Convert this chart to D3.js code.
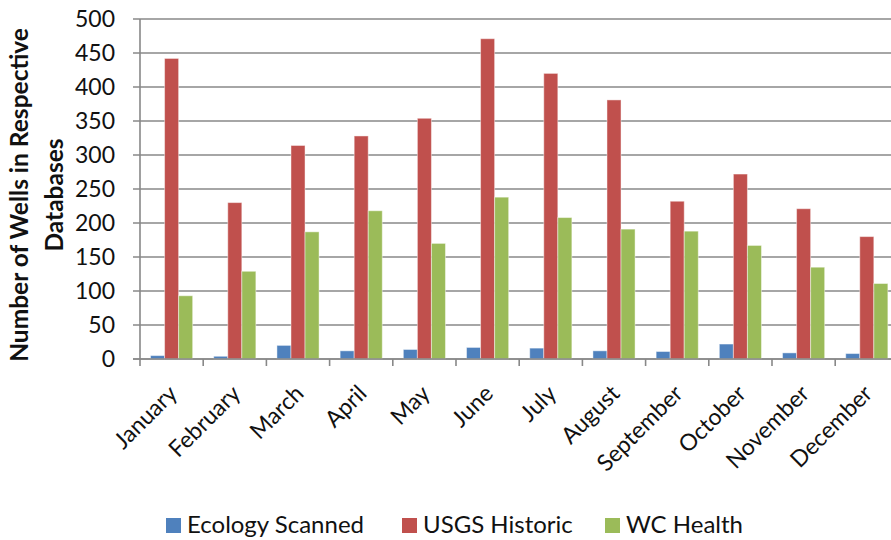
<!DOCTYPE html>
<html>
<head>
<meta charset="utf-8">
<script src="https://cdn.jsdelivr.net/npm/d3@7"></script>
<style>
  html, body { margin: 0; padding: 0; background: #fff; }
  svg { display: block; }
</style>
</head>
<body>
<svg></svg>
<script>
// wells per month, three databases
const months = ['January', 'February', 'March', 'April', 'May', 'June', 'July', 'August', 'September', 'October', 'November', 'December'];
const seriesNames = ['Ecology Scanned', 'USGS Historic', 'WC Health'];
const ecologyScanned = [5, 4, 20, 12, 14, 17, 16, 12, 11, 22, 9, 8];
const usgsHistoric = [442, 230, 314, 328, 354, 471, 420, 381, 232, 272, 221, 180];
const wcHealth = [93, 129, 187, 218, 170, 238, 208, 191, 188, 167, 135, 111];
const yTicks = [0, 50, 100, 150, 200, 250, 300, 350, 400, 450, 500];

const WIDTH = 891;
const HEIGHT = 540;
const PLOT_LEFT = 140;
const PLOT_RIGHT = 898.4; // plot runs past the right edge of the picture
const PLOT_TOP = 19;
const PLOT_BOTTOM = 359;

const colors = ['#4F81BD', '#C0504D', '#9BBB59'];
const FONT = 'Lato, "Open Sans", sans-serif';

const svg = d3.select('svg').
attr('width', WIDTH).
attr('height', HEIGHT).
attr('font-family', FONT);

const xScale = d3.scaleBand().
domain(months).
range([PLOT_LEFT, PLOT_RIGHT]).
paddingInner(0).
paddingOuter(0);

const seriesScale = d3.scaleBand().
domain(seriesNames).
range([0, xScale.bandwidth()]).
paddingInner(0).
paddingOuter(0.75);

const yScale = d3.scaleLinear().
domain([0, 500]).
range([PLOT_BOTTOM, PLOT_TOP]);

// gridlines (include the little tick on the left)
svg.append('g').
selectAll('line').
data(yTicks).
enter().
append('line').
attr('x1', PLOT_LEFT - 7).
attr('x2', WIDTH).
attr('y1', d => yScale(d)).
attr('y2', d => yScale(d)).
attr('stroke', '#888').
attr('stroke-width', 1.6);

// y axis line
svg.append('line').
attr('x1', PLOT_LEFT).
attr('x2', PLOT_LEFT).
attr('y1', PLOT_TOP).
attr('y2', PLOT_BOTTOM).
attr('stroke', '#888').
attr('stroke-width', 1.6);

// y tick labels
svg.append('g').
selectAll('text').
data(yTicks).
enter().
append('text').
attr('x', 115).
attr('y', d => yScale(d) + 8.3).
attr('text-anchor', 'end').
attr('font-size', '23px').
attr('fill', '#111').
text(d => d);

// bars
const rows = months.map((m, i) => ({ month: m, values: [ecologyScanned[i], usgsHistoric[i], wcHealth[i]] }));

const monthG = svg.append('g').
selectAll('g').
data(rows).
enter().
append('g').
attr('transform', d => `translate(${xScale(d.month)}, 0)`);

monthG.selectAll('rect').
data(d => d.values.map((v, k) => ({ name: seriesNames[k], value: v, color: colors[k] }))).
enter().
append('rect').
attr('x', d => seriesScale(d.name)).
attr('y', d => yScale(d.value)).
attr('width', seriesScale.bandwidth()).
attr('height', d => yScale(0) - yScale(d.value)).
attr('fill', d => d.color).
attr('stroke', '#fff').
attr('stroke-opacity', 0.45).
attr('stroke-width', 1);

// x axis line + category ticks
svg.append('line').
attr('x1', PLOT_LEFT - 7).
attr('x2', WIDTH).
attr('y1', PLOT_BOTTOM).
attr('y2', PLOT_BOTTOM).
attr('stroke', '#888').
attr('stroke-width', 1.6);

svg.append('g').
selectAll('line').
data(months).
enter().
append('line').
attr('x1', d => xScale(d)).
attr('x2', d => xScale(d)).
attr('y1', PLOT_BOTTOM).
attr('y2', PLOT_BOTTOM + 7).
attr('stroke', '#888').
attr('stroke-width', 1.6);

// rotated month labels
svg.append('g').
selectAll('text').
data(months).
enter().
append('text').
attr('transform', d => `translate(${xScale(d) + xScale.bandwidth() / 2 + 7}, ${PLOT_BOTTOM + 36}) rotate(-45)`).
attr('text-anchor', 'end').
attr('font-size', '23px').
attr('fill', '#111').
text(d => d);

// y axis title
const yTitle = svg.append('text').
attr('transform', `translate(0, 195) rotate(-90)`).
attr('text-anchor', 'middle').
attr('font-size', '24.5px').
attr('font-weight', 'bold').
attr('fill', '#111');

yTitle.append('tspan').
attr('x', 0).
attr('y', 28).
text('Number of Wells in Respective');

yTitle.append('tspan').
attr('x', 0).
attr('y', 63).
text('Databases');

// legend
const legendX = [166, 402, 605];

const legendG = svg.append('g').
selectAll('g').
data(seriesNames).
enter().
append('g').
attr('transform', (d, i) => `translate(${legendX[i]}, 518)`);

legendG.append('rect').
attr('width', 15).
attr('height', 15).
attr('fill', (d, i) => colors[i]);

legendG.append('text').
attr('x', 21).
attr('y', 14.5).
attr('font-size', '24px').
attr('fill', '#111').
text(d => d);
</script>
</body>
</html>
